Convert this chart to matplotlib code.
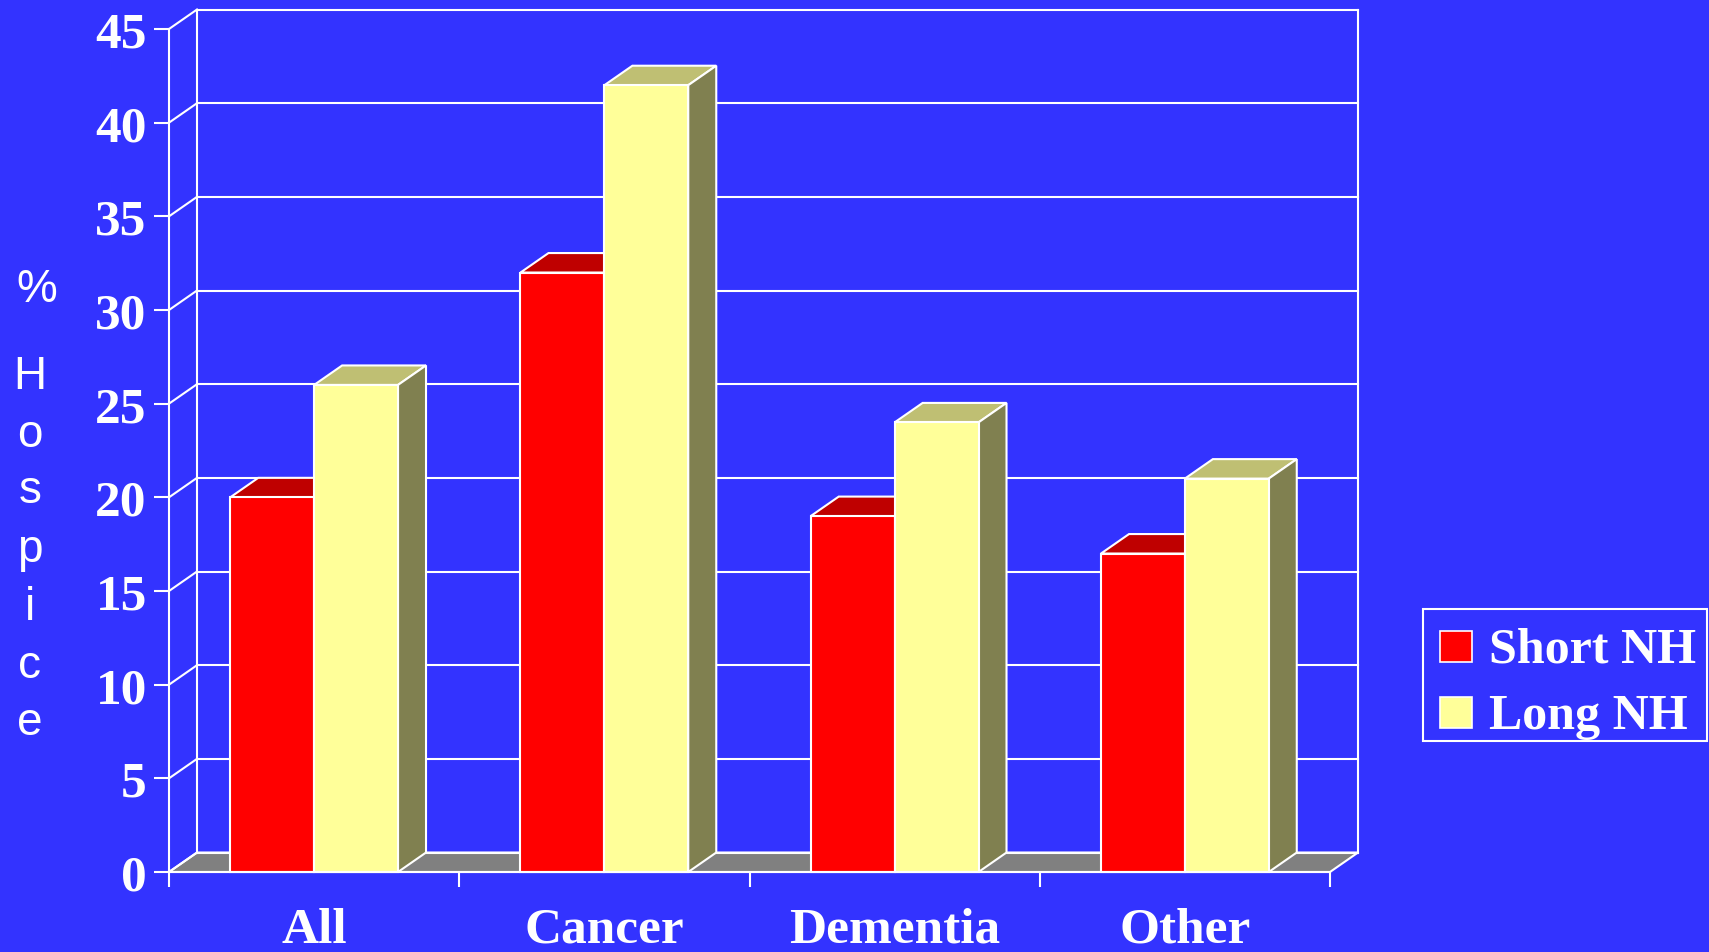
import numpy as np
import matplotlib.pyplot as plt
from matplotlib.transforms import blended_transform_factory

categories = ["All", "Cancer", "Dementia", "Other"]
short_nh = [20, 32, 19, 17]
long_nh = [26, 42, 24, 21]
series_names = ["Short NH", "Long NH"]
y_ticks = [0, 5, 10, 15, 20, 25, 30, 35, 40, 45]
ylabel_letters = ["%", "H", "o", "s", "p", "i", "c", "e"]

BG = "#3333FF"
WHITE = "white"
front_cols = ["#FF0000", "#FFFF99"]
top_cols = ["#BF0000", "#BFBF73"]
side_cols = ["#800000", "#808050"]
FLOOR = "#808080"
SERIF = ["Liberation Serif", "DejaVu Serif"]
SANS = ["Liberation Sans", "DejaVu Sans"]

W, H = 1709, 953
fig = plt.figure(figsize=(W / 100, H / 100), dpi=100, facecolor=BG)
ax = fig.add_axes([169 / W, 80 / H, 1161 / W, 843 / H])
ax.set_facecolor("none")
ax.set_xlim(-0.5, len(categories) - 0.5)
ax.set_ylim(0, 45)

# pseudo 3d depth in data units
dx, dy = 0.0965, 1.04
lw = 1.5
x_lo, x_hi = -0.5, len(categories) - 0.5

# floor
ax.fill([x_lo, x_hi, x_hi + dx, x_lo + dx], [0, 0, dy, dy], color=FLOOR,
        ec=WHITE, lw=lw, zorder=1, clip_on=False)

# back wall grid + left wall diagonals
for v in y_ticks:
    ax.plot([x_lo + dx, x_hi + dx], [v + dy, v + dy], color=WHITE, lw=lw, zorder=1, clip_on=False)
    ax.plot([x_lo, x_lo + dx], [v, v + dy], color=WHITE, lw=lw, zorder=1, clip_on=False)
ax.plot([x_lo + dx, x_lo + dx], [dy, 45 + dy], color=WHITE, lw=lw, zorder=1, clip_on=False)
ax.plot([x_hi + dx, x_hi + dx], [dy, 45 + dy], color=WHITE, lw=lw, zorder=1, clip_on=False)

# bars
bw = 0.289
x = np.arange(len(categories))
for s, vals in enumerate([short_nh, long_nh]):
    offs = (s - 0.5) * bw
    ax.bar(x + offs, vals, width=bw, color=front_cols[s], edgecolor=WHITE, linewidth=lw,
           zorder=4 + s * 0.1, clip_on=False)
    for xi, v in zip(x, vals):
        x0, x1 = xi + offs - bw / 2, xi + offs + bw / 2
        ax.fill([x0, x1, x1 + dx, x0 + dx], [v, v, v + dy, v + dy], color=top_cols[s],
                ec=WHITE, lw=lw, zorder=3, clip_on=False)
        ax.fill([x1, x1 + dx, x1 + dx, x1], [0, dy, v + dy, v], color=side_cols[s],
                ec=WHITE, lw=lw, zorder=3, clip_on=False)

# axes lines and ticks
for sp in ["top", "right"]:
    ax.spines[sp].set_visible(False)
for sp in ["left", "bottom"]:
    ax.spines[sp].set_color(WHITE)
    ax.spines[sp].set_linewidth(lw)
    ax.spines[sp].set_zorder(5)
ax.set_yticks(y_ticks)
ax.set_yticklabels([str(t) for t in y_ticks], fontsize=37, fontweight="bold",
                   family=SERIF, color=WHITE)
ax.tick_params(axis="y", length=11, width=lw, color=WHITE, pad=5)
ax.set_xticks(np.arange(len(categories) + 1) - 0.5)
ax.set_xticklabels([])
ax.tick_params(axis="x", length=11, width=lw, color=WHITE)

trans = blended_transform_factory(ax.transData, ax.transAxes)
for xi, c in zip(x, categories):
    ax.text(xi, -70 / 843, c, transform=trans, ha="center", va="baseline",
            fontsize=37, fontweight="bold", family=SERIF, color=WHITE)

# overlay in pixel coords for y label and legend
ov = fig.add_axes([0, 0, 1, 1])
ov.set_xlim(0, W)
ov.set_ylim(H, 0)
ov.axis("off")
ov.patch.set_alpha(0)

baselines = [302, 389, 447, 503, 562, 620, 678, 735]
for ch, b in zip(ylabel_letters, baselines):
    ov.text(37 if ch == "%" else 30, b, ch, ha="center", va="baseline",
            fontsize=33, family=SANS, color=WHITE)

ov.add_patch(plt.Rectangle((1423, 610), 284, 132, fill=False, ec=WHITE, lw=lw))
for i, name in enumerate(series_names):
    top = 632 + i * 66
    ov.add_patch(plt.Rectangle((1440, top), 32, 31, fc=front_cols[i], ec=WHITE, lw=1.2))
    ov.text(1489, top + 31, name, ha="left", va="baseline", fontsize=36,
            fontweight="bold", family=SERIF, color=WHITE)

fig.savefig("out.png", dpi=100, facecolor=BG)
